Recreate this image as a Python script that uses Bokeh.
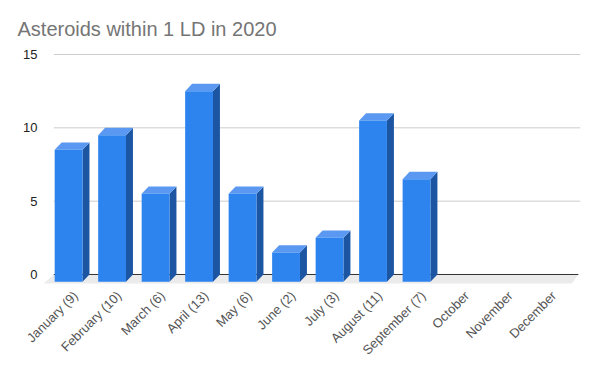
import math
from bokeh.plotting import figure
from bokeh.models import FixedTicker, Range1d
from bokeh.embed import file_html
from bokeh.resources import INLINE

# ---- data ----
title_text = "Asteroids within 1 LD in 2020"
months = ["January (9)", "February (10)", "March (6)", "April (13)", "May (6)", "June (2)",
          "July (3)", "August (11)", "September (7)", "October", "November", "December"]
counts = [9, 10, 6, 13, 6, 2, 3, 11, 7, 0, 0, 0]
y_ticks = [0, 5, 10, 15]

# ---- style (3D look) ----
HALF = 0.32     # half width of bar face, in category units
DX = 0.16       # depth offset, x
DY = 0.5        # depth offset, y
FLOOR_DX = 0.15
FLOOR_DY = 0.61
FRONT = "#2d84ee"
SIDE = "#1c56a3"
TOP = "#5a98f1"
FONT = "Liberation Sans"

X0, X1 = -0.5, len(months) - 0.44

p = figure(width=585, height=366, output_backend="svg", toolbar_location=None,
           x_range=Range1d(-0.76, 11.61), y_range=Range1d(-0.682, 15.545),
           min_border_left=42, min_border_right=5, min_border_top=46, min_border_bottom=82)
p.outline_line_color = None
p.xgrid.visible = False
p.ygrid.visible = False

# floor
p.patch([X0, X1, X1 - FLOOR_DX, X0 - 0.23], [0, 0, -FLOOR_DY, -FLOOR_DY],
        fill_color="#ebebeb", line_color=None)

# grid lines
gy = [t for t in y_ticks if t > 0]
p.segment(x0=[X0] * len(gy), x1=[X1 + 0.05] * len(gy), y0=gy, y1=gy, line_color="#cccccc", line_width=1)
p.segment(x0=[X0], x1=[X1], y0=[0], y1=[0], line_color="#333333", line_width=1)

# bars
fl, fr, fb, ft = [], [], [], []
sx, sy, tx, ty = [], [], [], []
for i, v in enumerate(counts):
    if v <= 0:
        continue
    l, r = i - HALF - DX, i + HALF - DX
    fl.append(l); fr.append(r); fb.append(-DY); ft.append(v - DY)
    sx.append([r, r + DX, r + DX, r]); sy.append([-DY, 0, v, v - DY])
    tx.append([l, r, r + DX, l + DX]); ty.append([v - DY, v - DY, v, v])

p.patches(sx, sy, fill_color=SIDE, line_color=None)
p.patches(tx, ty, fill_color=TOP, line_color=None)
p.quad(left=fl, right=fr, bottom=fb, top=ft, fill_color=FRONT, line_color=None)

# axes
xa = p.xaxis[0]
xa.ticker = FixedTicker(ticks=list(range(len(months))))
xa.major_label_overrides = {i: m for i, m in enumerate(months)}
xa.major_label_orientation = math.pi / 4
xa.axis_line_color = None
xa.major_tick_line_color = None
xa.minor_tick_line_color = None
xa.major_tick_out = 0
xa.major_label_standoff = 9
xa.major_label_text_font = FONT
xa.major_label_text_font_size = "13px"
xa.major_label_text_color = "#555555"

ya = p.yaxis[0]
ya.ticker = FixedTicker(ticks=y_ticks)
ya.axis_line_color = None
ya.major_tick_line_color = None
ya.minor_tick_line_color = None
ya.major_tick_out = 0
ya.major_label_standoff = 5
ya.major_label_text_font = FONT
ya.major_label_text_font_size = "13px"
ya.major_label_text_color = "#222222"

p.title.text = title_text
p.title.text_font = FONT
p.title.text_font_size = "20px"
p.title.text_font_style = "normal"
p.title.text_color = "#757575"
p.title.offset = -25
p.title.standoff = 13

open("out.html", "w").write(file_html(p, INLINE))
